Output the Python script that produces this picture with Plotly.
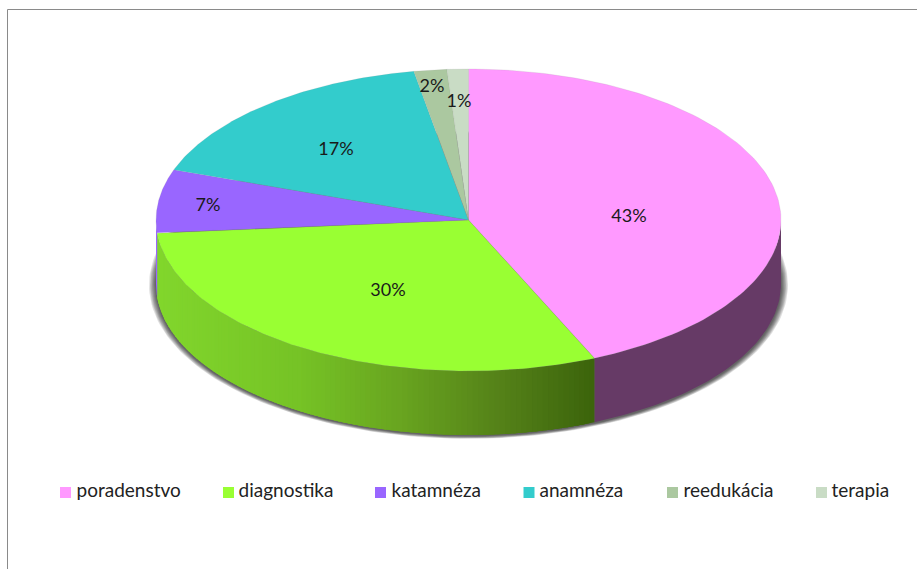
import numpy as np
import plotly.graph_objects as go

# ---- data ----
categories = ["poradenstvo", "diagnostika", "katamnéza", "anamnéza", "reedukácia", "terapia"]
shares = [43.4, 30.2, 6.8, 16.8, 1.7, 1.1]
labels = ["43%", "30%", "7%", "17%", "2%", "1%"]

# ---- styling ----
colors = ["#FF99FF", "#99FF33", "#9966FF", "#33CCCC", "#ABC8A0", "#C9DCC5"]
FONT = "Lato"
CX, CY, RX, RY, DEPTH = 468.5, 220.0, 312.5, 151.0, 64.0
LABEL_XY = [(629, 217), (388, 291), (208, 206), (336, 150), (432, 87), (459, 102)]
LEGEND_X = [65.5, 228.5, 380.5, 529, 672.5, 821.5]
LEGEND_TEXT_X = [76.5, 238.5, 391.5, 539.5, 683.5, 831.5]
LEGEND_Y = 492.5
WALL_PINK = "#663A66"
GREEN_STOPS_X = [156, 300, 400, 500, 594]
GREEN_STOPS = [(130, 215, 45), (118, 195, 38), (105, 165, 32), (85, 130, 25), (60, 100, 12)]


def ex(t):
    return CX + RX * np.sin(np.radians(t))


def ey(t, drop=0.0):
    return CY + drop - RY * np.cos(np.radians(t))


fig = go.Figure()


def poly(xs, ys, fill, line=None, lw=0.0):
    fig.add_trace(go.Scatter(
        x=list(xs), y=list(ys), mode="lines", fill="toself", fillcolor=fill,
        line=dict(color=line or fill, width=lw), hoverinfo="skip", showlegend=False))


# soft shadow around the lower rim
ta = np.linspace(0, 360, 241)
for k in range(7, 0, -1):
    poly(CX + (RX + k) * np.sin(np.radians(ta)),
         CY + DEPTH + 1 - (RY + k * 0.4) * np.cos(np.radians(ta)),
         "rgba(0,0,0,0.12)")

edges = np.concatenate([[0], np.cumsum(shares)]) * 3.6 * 100 / sum(shares)

# side wall of every slice that faces the viewer
for i in range(len(shares)):
    a, b = max(edges[i], 90), min(edges[i + 1], 270)
    if b <= a:
        continue
    if categories[i] == "diagnostika":
        # each band overlaps the next one so no seams show
        steps = np.arange(a, b + 1.0, 1.0)
        steps[-1] = b
        for t0, t1 in list(zip(steps[:-1], steps[1:])):
            xm = ex((t0 + t1) / 2)
            rgb = [np.interp(xm, GREEN_STOPS_X, [c[j] for c in GREEN_STOPS]) for j in range(3)]
            col = "rgb(%d,%d,%d)" % tuple(rgb)
            te = min(t1 + 1.5, b)
            t = np.linspace(t0, te, 4)
            poly(np.r_[ex(t), ex(t[::-1])], np.r_[ey(t), ey(t[::-1], DEPTH)], col)
    else:
        t = np.linspace(a, b, 60)
        col = WALL_PINK if i == 0 else colors[i]
        poly(np.r_[ex(t), ex(t[::-1])], np.r_[ey(t), ey(t[::-1], DEPTH)], col)

# top face
for i, col in enumerate(colors):
    t = np.linspace(edges[i], edges[i + 1], 120)
    poly(np.r_[CX, ex(t), CX], np.r_[CY, ey(t), CY], col, "rgba(150,150,150,0.3)", 0.5)

# percentage labels
fig.add_trace(go.Scatter(
    x=[p[0] for p in LABEL_XY], y=[p[1] for p in LABEL_XY], mode="text", text=labels,
    textposition="middle center", textfont=dict(family=FONT, size=18, color="#1a1a1a"),
    hoverinfo="skip", showlegend=False))

# legend row
fig.add_trace(go.Scatter(
    x=LEGEND_X, y=[LEGEND_Y] * len(LEGEND_X), mode="markers",
    marker=dict(symbol="square", size=11, color=colors, line=dict(width=0)),
    hoverinfo="skip", showlegend=False))
fig.add_trace(go.Scatter(
    x=LEGEND_TEXT_X, y=[LEGEND_Y] * len(LEGEND_X), mode="text",
    text=categories, textposition="middle right",
    textfont=dict(family=FONT, size=19, color="#222222"),
    hoverinfo="skip", showlegend=False))

fig.update_layout(
    width=917, height=569, margin=dict(l=0, r=0, t=0, b=0),
    paper_bgcolor="white", plot_bgcolor="white", showlegend=False,
    xaxis=dict(range=[0, 917], visible=False, fixedrange=True),
    yaxis=dict(range=[569, 0], visible=False, fixedrange=True),
    shapes=[dict(type="line", xref="paper", yref="paper", x0=7.5 / 917, x1=1, y0=1 - 9.5 / 569, y1=1 - 9.5 / 569,
                 line=dict(color="#8a8a8a", width=1)),
            dict(type="line", xref="paper", yref="paper", x0=7.5 / 917, x1=7.5 / 917, y0=0, y1=1 - 9.5 / 569,
                 line=dict(color="#8a8a8a", width=1))],
)

fig.write_html("out.html", config={"displayModeBar": False},
               post_script="document.body.style.margin='0';document.documentElement.style.overflow='hidden';")
